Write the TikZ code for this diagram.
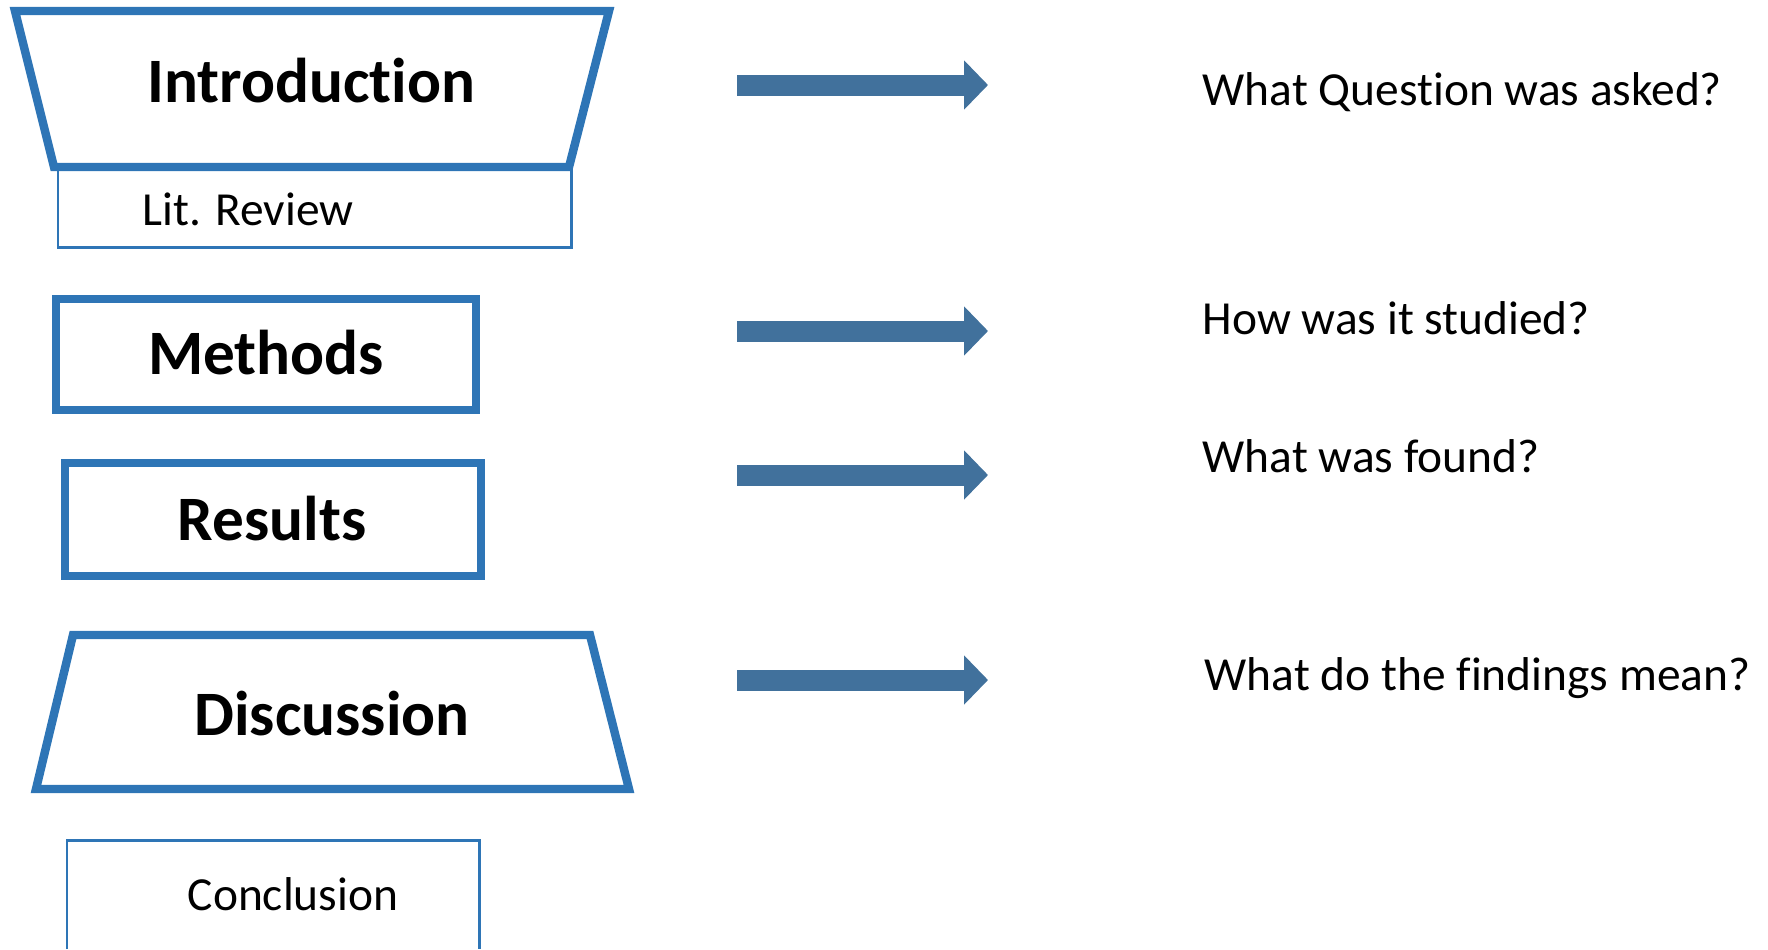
\documentclass[tikz,border=0pt]{standalone}
\usepackage{fontspec}
\setmainfont{Carlito}[RawFeature={-liga;-clig;-dlig;-calt}]
\usetikzlibrary{arrows.meta}
\definecolor{boxblue}{HTML}{2E75B6}
\definecolor{arrowblue}{HTML}{41719C}
\begin{document}
\begin{tikzpicture}[
    heavy/.style={draw=boxblue, line width=2.4pt, line join=miter},
    light/.style={draw=boxblue, line width=0.85pt},
    title/.style={font=\fontsize{18}{22}\selectfont\bfseries},
    plain/.style={font=\fontsize{13.5}{16}\selectfont},
    question/.style={plain, anchor=west, inner sep=0pt},
    pointer/.style={arrowblue, line width=0.21cm, -{Triangle[length=0.24cm, width=0.48cm]}}
]
    \useasboundingbox (0,0) rectangle (17.68,-9.49);

    % left column
    \draw[light] (0.58,-1.69) rectangle (5.71,-2.47);
    \draw[heavy] (0.15,-0.11) -- (6.09,-0.11) -- (5.69,-1.67) -- (0.54,-1.67) -- cycle;
    \node[title] (intro) at (3.11,-0.81) {Introduction};
    \node[plain] (litrev) at (2.48,-2.09) {Lit. Review};

    \draw[heavy] (0.56,-2.99) rectangle (4.76,-4.10);
    \node[title] (methods) at (2.66,-3.53) {Methods};

    \draw[heavy] (0.65,-4.63) rectangle (4.81,-5.76);
    \node[title] (results) at (2.72,-5.19) {Results};

    \draw[heavy] (0.73,-6.35) -- (5.90,-6.35) -- (6.29,-7.89) -- (0.36,-7.89) -- cycle;
    \node[title] (discussion) at (3.32,-7.14) {Discussion};

    \draw[light] (0.67,-9.49) -- (0.67,-8.40) -- (4.79,-8.40) -- (4.79,-9.49);
    \node[plain] (conclusion) at (2.93,-8.94) {Conclusion};

    % arrows
    \coordinate (a1) at (7.37,-0.85);
    \coordinate (b1) at (9.88,-0.85);
    \coordinate (a2) at (7.37,-3.31);
    \coordinate (b2) at (9.88,-3.31);
    \coordinate (a3) at (7.37,-4.75);
    \coordinate (b3) at (9.88,-4.75);
    \coordinate (a4) at (7.37,-6.80);
    \coordinate (b4) at (9.88,-6.80);
    \foreach \i in {1,...,4}
        \draw[pointer] (a\i) -- (b\i);

    % questions
    \node[question] (q1) at (12.02,-0.92) {What Question was asked?};
    \node[question] (q2) at (12.02,-3.18) {How was it studied?};
    \node[question] (q3) at (12.02,-4.56) {What was found?};
    \node[question] (q4) at (12.04,-6.78) {What do the findings mean?};

\end{tikzpicture}
\end{document}
